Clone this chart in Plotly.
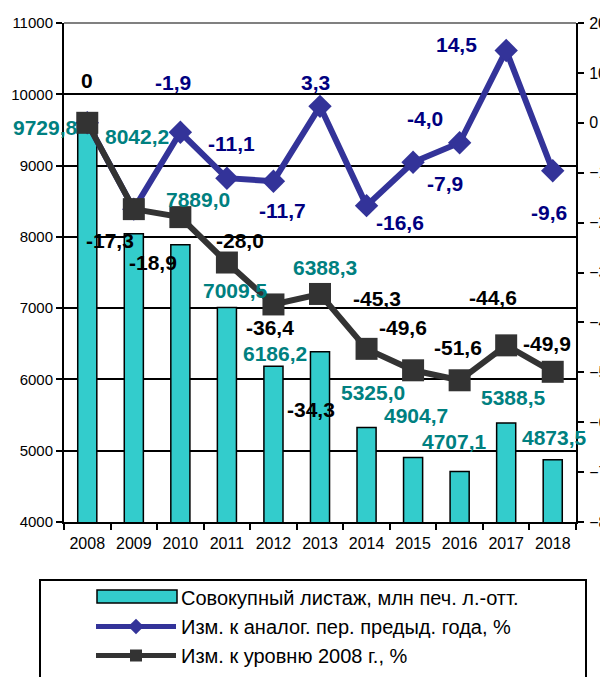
import plotly.graph_objects as go

years = ["2008", "2009", "2010", "2011", "2012", "2013", "2014", "2015", "2016", "2017", "2018"]
listazh = [9729.8, 8042.2, 7889.0, 7009.5, 6186.2, 6388.3, 5325.0, 4904.7, 4707.1, 5388.5, 4873.5]
yoy_change = [0.0, -17.3, -1.9, -11.1, -11.7, 3.3, -16.6, -7.9, -4.0, 14.5, -9.6]
vs_2008 = [0.0, -17.3, -18.9, -28.0, -36.4, -34.3, -45.3, -49.6, -51.6, -44.6, -49.9]

bar_labels = ["9729,8", "8042,2", "7889,0", "7009,5", "6186,2", "6388,3", "5325,0", "4904,7", "4707,1", "5388,5", "4873,5"]
yoy_labels = [None, None, "-1,9", "-11,1", "-11,7", "3,3", "-16,6", "-7,9", "-4,0", "14,5", "-9,6"]
base_labels = ["0", "-17,3", "-18,9", "-28,0", "-36,4", "-34,3", "-45,3", "-49,6", "-51,6", "-44,6", "-49,9"]

names = ["Совокупный листаж, млн печ. л.-отт.",
         "Изм. к аналог. пер. предыд. года, %",
         "Изм. к уровню 2008 г., %"]

# label offsets (pixels) relative to the data point
bar_shift = [(-42, -14), (3, 97), (18, 45), (9, 17), (2, 13), (5, 84), (6, 35), (3, 42), (-5, 30), (7, 26), (2, 22)]
yoy_shift = [None, None, (-7, 50), (5, 35), (9, -29), (-5, 24), (33, -17), (32, -21), (-35, 24), (-50, 6), (-4, -42)]
base_shift = [(0, 42), (-24, -31), (-27, -45), (13, 22), (-3, -23), (-9, -116), (10, 50), (-10, 43), (-2, 33), (-13, 48), (-6, 28)]

FONT = "Liberation Sans, Arial, sans-serif"
TEAL = "#33CCCC"
NAVY = "#333399"
DARK = "#333333"
LBL = 21

fig = go.Figure()
# legend-only entry for the bars (its wide swatch is drawn as a layout shape)
fig.add_trace(go.Scatter(x=[None], y=[None], name=names[0], mode="lines",
                         line=dict(color="rgba(0,0,0,0)", width=1), hoverinfo="skip"))
fig.add_trace(go.Bar(x=years, y=listazh, name=names[0], yaxis="y", showlegend=False,
                     marker=dict(color=TEAL, line=dict(color="black", width=1.5)),
                     width=0.41))
fig.add_trace(go.Scatter(x=years, y=yoy_change, name=names[1], yaxis="y2", mode="lines+markers",
                         line=dict(color=NAVY, width=6),
                         marker=dict(symbol="diamond", size=18, color=NAVY)))
fig.add_trace(go.Scatter(x=years, y=vs_2008, name=names[2], yaxis="y2", mode="lines+markers",
                         line=dict(color=DARK, width=6),
                         marker=dict(symbol="square", size=22, color=DARK)))

ann = []
for i, yr in enumerate(years):
    dx, dy = bar_shift[i]
    ann.append(dict(x=i, y=listazh[i], xref="x", yref="y", text=bar_labels[i], showarrow=False,
                    xshift=dx, yshift=dy, font=dict(family=FONT, size=LBL, color="#008080", weight="bold")))
    if yoy_labels[i] is not None:
        dx, dy = yoy_shift[i]
        ann.append(dict(x=i, y=yoy_change[i], xref="x", yref="y2", text=yoy_labels[i], showarrow=False,
                        xshift=dx, yshift=dy, font=dict(family=FONT, size=LBL, color="#000080", weight="bold")))
    dx, dy = base_shift[i]
    ann.append(dict(x=i, y=vs_2008[i], xref="x", yref="y2", text=base_labels[i], showarrow=False,
                    xshift=dx, yshift=dy, font=dict(family=FONT, size=LBL, color="black", weight="bold")))

# page body has an 8px default margin: the figure is 600x669 placed at (8, 8)
PLOT_L, PLOT_W, PLOT_B, PLOT_H = 64, 512, 522, 499

def px_x(p):
    return (p - PLOT_L) / PLOT_W

def px_y(p):
    return (PLOT_B - p) / PLOT_H

fig.update_layout(
    width=600, height=669,
    margin=dict(l=56, r=32, t=15, b=155, autoexpand=False),
    paper_bgcolor="white", plot_bgcolor="white",
    font=dict(family=FONT, size=16, color="black"),
    showlegend=True,
    xaxis=dict(type="category", range=[-0.5, len(years) - 0.5], showline=True, linecolor="black", linewidth=2,
               ticks="outside", ticklen=6, tickwidth=2, tickcolor="black", tickson="boundaries",
               showgrid=False, tickfont=dict(size=16), zeroline=False, tickangle=0,
               automargin=False, ticklabelstandoff=6),
    yaxis=dict(range=[4000, 11000], dtick=1000, tickformat="d", showline=True, linecolor="black", linewidth=2,
               ticks="outside", ticklen=6, tickwidth=2, tickcolor="black",
               showgrid=True, gridcolor="black", gridwidth=1.5, zeroline=False,
               tickfont=dict(size=15), automargin=False, ticklabelstandoff=0),
    yaxis2=dict(range=[-80, 20], dtick=10, tickformat="d", overlaying="y", side="right", showline=True,
                linecolor="black", linewidth=2, ticks="outside", ticklen=6, tickwidth=2,
                tickcolor="black", showgrid=False, zeroline=False, tickfont=dict(size=16),
                automargin=False, ticklabelstandoff=2),
    legend=dict(x=px_x(91), y=px_y(578), xanchor="left", yanchor="top",
                bgcolor="rgba(0,0,0,0)", borderwidth=0, itemwidth=80, itemsizing="constant",
                font=dict(family=FONT, size=20, color="black"), traceorder="normal"),
    annotations=ann,
    shapes=[
        dict(type="line", xref="paper", yref="paper", x0=0, x1=1, y0=1, y1=1,
             line=dict(color="#808080", width=2)),
        dict(type="rect", xref="paper", yref="paper", x0=px_x(40), x1=px_x(586),
             y0=-0.5, y1=px_y(580), line=dict(color="black", width=2), layer="above"),
        # wide swatch for the bar series legend entry
        dict(type="rect", xref="paper", yref="paper", x0=px_x(97), x1=px_x(177),
             y0=px_y(603), y1=px_y(590), fillcolor=TEAL, line=dict(color="black", width=1.5),
             layer="above"),
    ],
)

fig.write_html("out.html", config={"displayModeBar": False})
